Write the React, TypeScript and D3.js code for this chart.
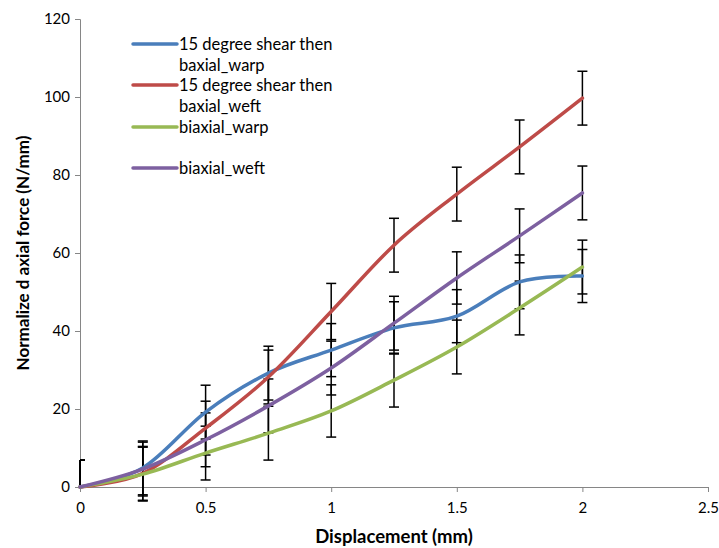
import React, { useRef, useEffect } from 'react';
import * as d3 from 'd3';

const displacement = [0, 0.25, 0.5, 0.75, 1, 1.25, 1.5, 1.75, 2];

const shearWarp = [0, 4.9, 19.2, 29.2, 35.1, 40.8, 43.8, 52.6, 54.1];
const shearWeft = [0, 3.5, 15.1, 28.2, 45.0, 62.0, 75.1, 87.2, 99.7];
const biaxialWarp = [0, 3.3, 8.7, 13.8, 19.5, 27.4, 35.9, 45.9, 56.4];
const biaxialWeft = [0, 4.6, 12.1, 20.8, 30.5, 42.0, 53.6, 64.4, 75.4];

const shearWarpErr = [6.9, 6.9, 6.9, 6.9, 6.8, 6.7, 6.8, 6.9, 6.8];
const shearWeftErr = [6.9, 6.9, 6.9, 6.9, 7.2, 6.9, 6.9, 6.9, 6.9];
const biaxialWarpErr = [6.9, 6.9, 6.9, 6.9, 6.7, 6.9, 6.9, 6.9, 6.9];
const biaxialWeftErr = [6.9, 6.9, 6.9, 6.9, 6.9, 6.9, 6.7, 6.9, 6.9];

const seriesNames = [
  ['15 degree shear then', 'baxial_warp'],
  ['15 degree shear then', 'baxial_weft'],
  ['biaxial_warp'],
  ['biaxial_weft'],
];
const seriesColors = ['#4a7ebb', '#be4b48', '#98b954', '#7d60a0'];

const xTicks = [0, 0.5, 1, 1.5, 2, 2.5];
const yTicks = [0, 20, 40, 60, 80, 100, 120];

const App = () => {
  const ref = useRef<SVGSVGElement>(null);

  useEffect(() => {
    const width = 719;
    const height = 548;
    const margin = { top: 19, right: 11, bottom: 61, left: 80 };

    const svg = d3.select(ref.current);
    svg.selectAll('*').remove();

    const x = d3.scaleLinear().domain([0, 2.5]).range([margin.left, width - margin.right]);
    const y = d3.scaleLinear().domain([0, 120]).range([height - margin.bottom, margin.top]);

    const font = 'Lato, "Open Sans", sans-serif';
    const axisColor = '#868686';

    const values = [shearWarp, shearWeft, biaxialWarp, biaxialWeft];
    const errs = [shearWarpErr, shearWeftErr, biaxialWarpErr, biaxialWeftErr];

    // axes
    const xAxis = svg.append('g')
      .attr('transform', `translate(0,${y(0)})`)
      .call(d3.axisBottom(x).tickValues(xTicks).tickSize(5).tickFormat(d => String(d)));
    const yAxis = svg.append('g')
      .attr('transform', `translate(${x(0)},0)`)
      .call(d3.axisLeft(y).tickValues(yTicks).tickSize(5).tickFormat(d => String(d)));

    [xAxis, yAxis].forEach(a => {
      a.select('.domain').attr('stroke', axisColor);
      a.selectAll('.tick line').attr('stroke', axisColor);
      a.selectAll('.tick text')
        .attr('fill', '#000')
        .style('font-family', font)
        .style('font-size', '15px');
    });
    xAxis.selectAll('.tick text').attr('dy', '1.2em');
    yAxis.selectAll('.tick text').attr('x', -10);

    // error bars
    const cap = 5;
    values.forEach((vals, si) => {
      const g = svg.append('g').attr('stroke', '#000').attr('stroke-width', 1.5);
      vals.forEach((v, i) => {
        const e = errs[si][i];
        const px = x(displacement[i]);
        const hi = y(v + e);
        const lo = i === 0 ? y(v) : y(v - e);
        g.append('line').attr('x1', px).attr('x2', px).attr('y1', hi).attr('y2', lo);
        g.append('line').attr('x1', Math.max(px - cap, x(0))).attr('x2', px + cap).attr('y1', hi).attr('y2', hi);
        if (i !== 0) {
          g.append('line').attr('x1', px - cap).attr('x2', px + cap).attr('y1', lo).attr('y2', lo);
        }
      });
    });

    // lines
    const line = d3.line<number>()
      .x((d, i) => x(displacement[i]))
      .y(d => y(d))
      .curve(d3.curveCardinal.tension(0));

    values.forEach((vals, si) => {
      svg.append('path')
        .datum(vals)
        .attr('fill', 'none')
        .attr('stroke', seriesColors[si])
        .attr('stroke-width', 3.5)
        .attr('stroke-linecap', 'round')
        .attr('d', line);
    });

    // legend
    const legendY = [44, 85, 127, 168];
    seriesNames.forEach((names, i) => {
      const g = svg.append('g').attr('transform', `translate(133,${legendY[i]})`);
      g.append('line')
        .attr('x1', 0).attr('x2', 44)
        .attr('stroke', seriesColors[i])
        .attr('stroke-width', 3.5)
        .attr('stroke-linecap', 'round');
      names.forEach((t, j) => {
        g.append('text')
          .attr('x', 46)
          .attr('y', 6 + j * 21)
          .style('font-family', font)
          .style('font-size', '16.5px')
          .attr('fill', '#000')
          .text(t);
      });
    });

    // axis titles
    svg.append('text')
      .attr('x', (x(0) + x(2.5)) / 2)
      .attr('y', 543)
      .attr('text-anchor', 'middle')
      .style('font-family', font)
      .style('font-size', '18.5px')
      .style('font-weight', 'bold')
      .text('Displacement (mm)');

    svg.append('text')
      .attr('transform', `translate(29,${(y(0) + y(120)) / 2}) rotate(-90)`)
      .attr('text-anchor', 'middle')
      .style('font-family', font)
      .style('font-size', '17px')
      .style('font-weight', 'bold')
      .text('Normalize d axial force (N/mm)');
  }, []);

  return <svg ref={ref} width={719} height={548} style={{ position: 'absolute', left: 0, top: 0 }}></svg>;
};

export default App;
